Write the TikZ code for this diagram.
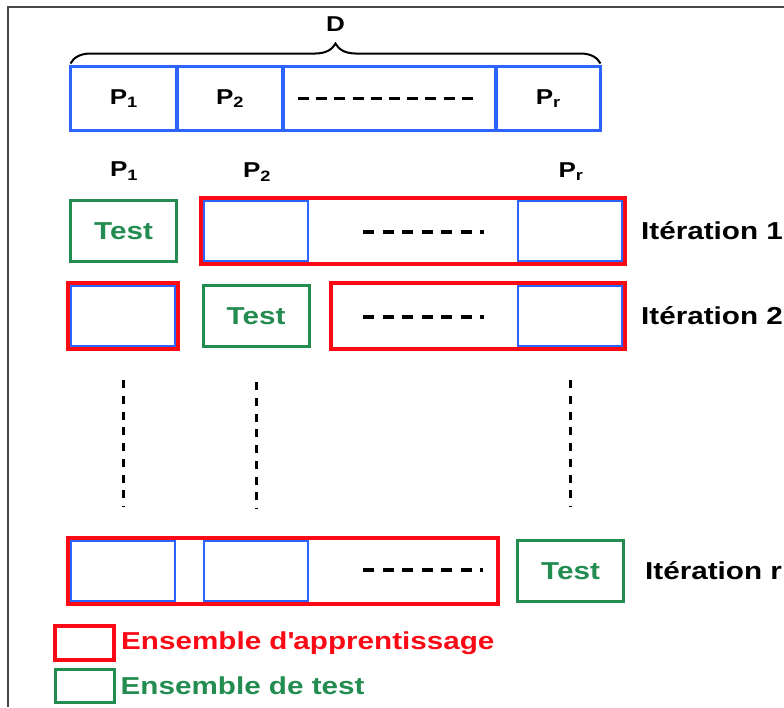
\documentclass[tikz,border=0pt]{standalone}
\usepackage{fontspec}
\setmainfont{Liberation Sans}[FakeStretch=1.21]
\usetikzlibrary{positioning,fit,calc,decorations.pathreplacing}
\definecolor{partblue}{RGB}{45,100,255}
\definecolor{trainred}{RGB}{250,10,20}
\definecolor{testgreen}{RGB}{35,140,80}
\definecolor{framegray}{RGB}{70,70,70}
\newcommand{\bigbf}{\fontsize{24.5}{28}\selectfont\bfseries}
\newcommand{\partbf}{\fontsize{21.5}{24}\selectfont\bfseries}

\begin{document}
\begin{tikzpicture}[x=1pt,y=-1pt,
    topcell/.style={draw=partblue,line width=3.5pt,minimum height=64pt,inner sep=0pt,outer sep=0pt,font=\partbf},
    part/.style={draw=partblue,line width=2.5pt,minimum width=104pt,minimum height=60pt,inner sep=0pt,outer sep=0pt},
    testset/.style={draw=testgreen,line width=3pt,minimum width=106pt,minimum height=61pt,inner sep=0pt,text=testgreen,font=\bigbf},
    trainset/.style={draw=trainred,line width=4pt,inner sep=3pt},
    gap/.style={line width=4pt,dash pattern=on 11pt off 8.5pt},
    vgap/.style={line width=3pt,dash pattern=on 8pt off 7.75pt},
    iter/.style={inner sep=0pt,font=\bigbf,anchor=west},
    colname/.style={inner sep=0pt,font=\partbf}]
  \useasboundingbox (0,0) rectangle (784,707);
  \draw[framegray,line width=2pt] (8,707) -- (8,7) -- (784,7);

  % the data set cut into r parts
  \node[topcell,minimum width=106.5pt] (p1) at (123.75,98.5) {P\textsubscript{1}};
  \node[topcell,minimum width=106pt,right=0pt of p1] (p2) {P\textsubscript{2}};
  \node[topcell,minimum width=213pt,right=0pt of p2] (pd) {};
  \node[topcell,minimum width=104.5pt,right=0pt of pd] (pr) {P\textsubscript{r}};
  \draw[line width=3.5pt,dash pattern=on 11pt off 7.2pt] ($(pd.west)+(15,0)$) -- ($(pd.east)+(-16,0)$);
  \draw[decorate,decoration={brace,amplitude=20pt,raise=3pt},line width=2pt]
    (p1.north west) -- (pr.north east) node[midway,above=34pt,inner sep=0pt,font=\partbf] (dname) {D};

  \node[colname] (l1) at (124,171) {P\textsubscript{1}};
  \node[colname] (l2) at (257,172) {P\textsubscript{2}};
  \node[colname] (lr) at (571,172) {P\textsubscript{r}};

  % iteration 1
  \node[testset] (t1) at (123.5,231) {Test};
  \node[part] (c12) at (256,231) {};
  \node[part] (c1r) at (570,231) {};
  \node[trainset,fit=(c12)(c1r)] (r1) {};
  \draw[gap] ($(c12.east)+(55,1)$) -- ($(c1r.west)+(-34,1)$);
  \node[iter,right=14pt of r1] (it1) {Itération 1};

  % iteration 2
  \node[part] (c21) at (123,316) {};
  \node[trainset,fit=(c21)] (r21) {};
  \node[testset] (t2) at (256,316) {Test};
  \coordinate (g2) at (334,316);
  \node[part] (c2r) at (570,316) {};
  \node[trainset,fit=(g2)(c2r)] (r22) {};
  \draw[gap] ($(c12.east)+(55,86)$) -- ($(c1r.west)+(-34,86)$);
  \node[iter,right=14pt of r22] (it2) {Itération 2};

  % the other iterations
  \draw[vgap] ($(c21.south)+(0,34)$) -- ($(c21.south)+(0,161)$);
  \draw[vgap] ($(t2.south)+(0,34)$) -- ($(t2.south)+(0,161)$);
  \draw[vgap] ($(c2r.south)+(0,34)$) -- ($(c2r.south)+(0,161)$);

  % iteration r
  \node[part] (cr1) at (123,571) {};
  \node[part] (cr2) at (256,571) {};
  \coordinate (gr) at (495,571);
  \node[trainset,fit=(cr1)(cr2)(gr)] (rr) {};
  \draw[gap] ($(cr2.east)+(55,-1)$) -- ($(cr2.east)+(175,-1)$);
  \node[testset] (tr) at (570.5,571) {Test};
  \node[iter,right=20pt of tr] (itr) {Itération r};

  % legend
  \node[trainset,minimum width=59pt,minimum height=34pt,inner sep=0pt] (key1) at (84.5,643) {};
  \node[iter,text=trainred,right=5pt of key1] (key1t) {Ensemble d\textquotesingle apprentissage};
  \node[testset,minimum width=59pt,minimum height=33pt] (key2) at (84.5,686) {};
  \node[iter,text=testgreen,right=5pt of key2] (key2t) {Ensemble de test};
\end{tikzpicture}
\end{document}
